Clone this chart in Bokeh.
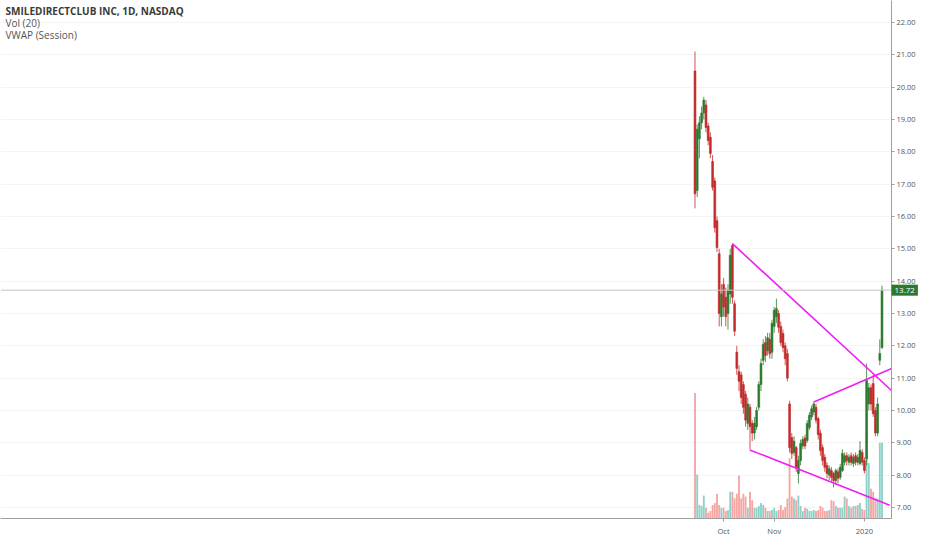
import pandas as pd
from bokeh.plotting import figure
from bokeh.models import Range1d, FixedTicker, Span, Label
from bokeh.core.properties import value
from bokeh.embed import file_html
from bokeh.resources import INLINE

# ---------------- data ----------------
title_text = "SMILEDIRECTCLUB INC, 1D, NASDAQ"
indicator_texts = ["Vol (20)", "VWAP (Session)"]

first_day = "2019-09-12"
last_day = "2020-01-14"
holidays = ["2019-11-28", "2019-12-25", "2020-01-01"]

opens = [20.50, 16.80, 18.40, 18.90, 19.20, 19.45, 18.80, 18.45, 17.70, 17.10,
         15.87, 14.85, 12.90, 13.90, 13.50, 13.00, 13.60, 15.10, 13.30, 11.80,
         11.20, 11.10, 10.80, 10.50, 9.60, 10.10, 9.60, 9.30, 9.50, 10.10,
         10.80, 11.55, 12.10, 11.85, 12.20, 11.80, 12.60, 12.90, 13.00, 12.60,
         12.38, 12.00, 11.76, 10.20, 9.16, 8.70, 8.85, 8.05, 8.45, 8.90,
         9.15, 9.07, 9.47, 9.80, 9.95, 10.10, 9.75, 9.30, 8.85, 8.55,
         8.30, 8.00, 8.14, 8.05, 7.83, 8.10, 7.93, 8.14, 8.40, 8.60,
         8.40, 8.60, 8.36, 8.60, 8.40, 8.36, 8.70, 8.45, 8.50, 10.20,
         10.70, 10.83, 10.00, 9.30, 11.55, 11.95]
highs = [21.10, 18.85, 19.10, 19.40, 19.70, 19.60, 18.90, 18.60, 17.90, 17.20,
         16.00, 15.00, 13.90, 14.10, 13.80, 13.90, 15.00, 15.16, 13.40, 12.00,
         11.40, 11.20, 10.90, 10.60, 10.40, 10.20, 9.70, 9.80, 10.10, 10.90,
         11.60, 12.20, 12.30, 12.40, 12.40, 12.80, 13.20, 13.46, 13.10, 12.75,
         12.50, 12.10, 11.90, 10.30, 9.30, 9.20, 8.90, 8.60, 9.10, 9.20,
         9.25, 9.70, 9.95, 10.15, 10.26, 10.20, 9.80, 9.40, 8.95, 8.65,
         8.40, 8.30, 8.25, 8.10, 8.20, 8.20, 8.35, 8.80, 8.70, 8.70,
         8.65, 8.70, 8.65, 8.70, 8.65, 9.05, 8.80, 8.55, 11.45, 10.85,
         10.80, 11.10, 10.10, 10.40, 12.20, 13.86]
lows = [16.25, 16.60, 17.80, 18.70, 19.00, 18.60, 18.20, 17.80, 16.80, 15.50,
        14.90, 12.60, 12.60, 12.90, 12.60, 12.50, 13.30, 13.30, 12.30, 11.10,
        10.60, 10.20, 9.90, 9.50, 9.40, 8.80, 9.05, 9.10, 9.40, 10.00,
        10.60, 11.40, 11.50, 11.70, 11.60, 11.60, 12.40, 12.70, 12.40, 12.00,
        11.80, 11.40, 10.90, 8.70, 8.50, 8.60, 8.10, 7.74, 8.30, 8.80,
        8.80, 9.00, 9.40, 9.70, 9.85, 9.60, 9.10, 8.60, 8.30, 8.10,
        7.90, 7.85, 7.80, 7.62, 7.70, 7.75, 7.85, 8.10, 8.30, 8.30,
        8.30, 8.30, 8.25, 8.30, 8.30, 8.30, 8.30, 8.05, 8.30, 10.00,
        10.00, 9.80, 9.20, 9.20, 11.40, 11.90]
closes = [16.70, 18.70, 18.90, 19.20, 19.60, 18.75, 18.35, 17.95, 16.90, 15.65,
          15.04, 13.00, 13.60, 13.20, 12.90, 13.70, 14.80, 13.50, 12.45, 11.30,
          10.90, 10.40, 10.10, 9.70, 10.20, 9.50, 9.30, 9.60, 10.00, 10.80,
          11.45, 12.05, 11.70, 12.25, 11.75, 12.70, 13.10, 13.15, 12.57, 12.10,
          11.95, 11.60, 11.00, 8.85, 8.67, 9.05, 8.24, 8.45, 8.98, 9.10,
          8.90, 9.60, 9.85, 10.05, 10.20, 9.70, 9.25, 8.76, 8.45, 8.24,
          8.05, 8.20, 7.93, 7.83, 8.14, 7.90, 8.24, 8.67, 8.60, 8.45,
          8.55, 8.40, 8.55, 8.40, 8.55, 8.76, 8.40, 8.14, 10.93, 10.70,
          10.20, 9.90, 9.30, 10.20, 11.76, 13.72]
volumes_m = [40.0, 14.0, 4.3, 4.0, 7.3, 3.4, 1.8, 2.4, 4.3, 4.9,
             7.9, 4.3, 3.4, 3.4, 2.4, 2.7, 8.5, 8.5, 6.4, 7.9,
             13.7, 6.4, 7.9, 7.0, 3.4, 8.5, 5.8, 3.4, 3.4, 4.0,
             4.9, 4.3, 3.4, 2.4, 2.4, 2.7, 3.4, 2.4, 2.7, 4.3,
             2.7, 3.7, 6.4, 19.2, 7.0, 6.4, 5.8, 7.3, 4.0, 2.4,
             3.4, 3.1, 2.4, 2.4, 2.7, 2.4, 2.7, 4.0, 3.4, 2.4,
             2.4, 2.7, 5.8, 5.5, 4.0, 3.4, 3.4, 3.4, 7.0, 6.4,
             4.0, 3.4, 4.0, 4.0, 4.3, 4.9, 3.0, 2.7, 27.5, 17.7,
             9.5, 8.5, 6.4, 6.4, 24.1, 24.1]

x_tick_dates = ["2019-10-01", "2019-11-01", "2020-01-02"]
x_tick_labels = ["Oct", "Nov", "2020"]
price_ticks = [7, 8, 9, 10, 11, 12, 13, 14, 15, 16, 17, 18, 19, 20, 21, 22]
price_tick_labels = ["7.00", "8.00", "9.00", "10.00", "11.00", "12.00", "13.00", "14.00",
                     "15.00", "16.00", "17.00", "18.00", "19.00", "20.00", "21.00", "22.00"]

# drawn trend lines (bar position, price)
upper_line_x = [17.0, 90.2]
upper_line_y = [15.16, 10.56]
rising_line_x = [54.0, 91.6]
rising_line_y = [10.26, 11.36]
lower_line_x = [24.9, 88.5]
lower_line_y = [8.78, 7.07]

# ---------------- build ----------------
dates = pd.bdate_range(first_day, last_day, freq="C", holidays=holidays)
idx = list(range(len(dates)))
x_ticks = [int(dates.get_loc(pd.Timestamp(d))) for d in x_tick_dates]

UP, DOWN = "#2a7a2e", "#c42a2a"
VUP, VDOWN = "#8fd1ca", "#f5a6a3"
up = [c >= o for o, c in zip(opens, closes)]
colors = [UP if u else DOWN for u in up]
vcolors = [VUP if u else VDOWN for u in up]
body_top = [max(o, c) for o, c in zip(opens, closes)]
body_bot = [min(o, c) for o, c in zip(opens, closes)]

FONT = "Open Sans"
FW, FH = 891, 518
x0 = -315.68
x1 = x0 + FW / 2.2
y1 = 22.68
y0 = y1 - FH / 32.33

p = figure(frame_width=FW, frame_height=FH,
           x_range=Range1d(x0, x1), y_range=Range1d(y0, y1),
           y_axis_location="right", output_backend="svg", toolbar_location=None,
           min_border_left=0, min_border_top=0, min_border_right=0, min_border_bottom=0)
p.outline_line_color = None
p.background_fill_color = "white"
p.xgrid.grid_line_color = None
p.ygrid.grid_line_color = "#f4f4f4"
p.ygrid.ticker = FixedTicker(ticks=price_ticks)

p.extra_y_ranges = {"vol": Range1d(0, 165)}
p.vbar(x=idx, top=volumes_m, bottom=0, width=0.85, fill_color=vcolors,
       line_color=None, y_range_name="vol")

p.segment(x0=idx, y0=lows, x1=idx, y1=highs, line_color=colors, line_width=1, line_alpha=0.8)
p.vbar(x=idx, top=body_top, bottom=body_bot, width=0.85, fill_color=colors,
       line_color=colors, line_width=0.6)

for lx, ly in [(upper_line_x, upper_line_y), (rising_line_x, rising_line_y),
               (lower_line_x, lower_line_y)]:
    p.line(lx, ly, line_color="#f01ef0", line_width=1.6)

p.add_layout(Span(location=closes[-1], dimension="width", line_color="#c6c6c6", line_width=1))

for ax in (p.yaxis[0], p.xaxis[0]):
    ax.major_label_text_font = FONT
    ax.major_label_text_font_size = "7.5px"
    ax.major_label_text_color = "#555555"
    ax.axis_line_color = "#9e9e9e"
    ax.major_tick_line_color = "#9e9e9e"
    ax.major_tick_out = 3
    ax.major_tick_in = 0
    ax.minor_tick_line_color = None
    ax.major_label_standoff = 2

yax = p.yaxis[0]
yax.ticker = FixedTicker(ticks=price_ticks)
yax.major_label_overrides = dict(zip(price_ticks, price_tick_labels))

xax = p.xaxis[0]
xax.ticker = FixedTicker(ticks=x_ticks)
xax.major_label_overrides = dict(zip(x_ticks, x_tick_labels))
xax.major_label_standoff = 4

p.add_layout(Label(x=x1, y=closes[-1], text=f"{closes[-1]:.2f}", x_offset=0,
                   text_baseline="middle", text_align="left",
                   text_font=FONT, text_font_size="8px", text_color="white",
                   background_fill_color=UP, padding=3), "right")

p.text(x=[x0], y=[y1], text=[title_text], x_offset=5, y_offset=10,
       text_font=value(FONT), text_font_size="10px", text_font_style="bold",
       text_color="#3a3a3a", text_baseline="middle")
p.text(x=[x0, x0], y=[y1, y1], text=indicator_texts, x_offset=5, y_offset=[22, 34],
       text_font=value(FONT), text_font_size="10px",
       text_color="#555555", text_baseline="middle")

open("out.html", "w").write(file_html(p, INLINE))
